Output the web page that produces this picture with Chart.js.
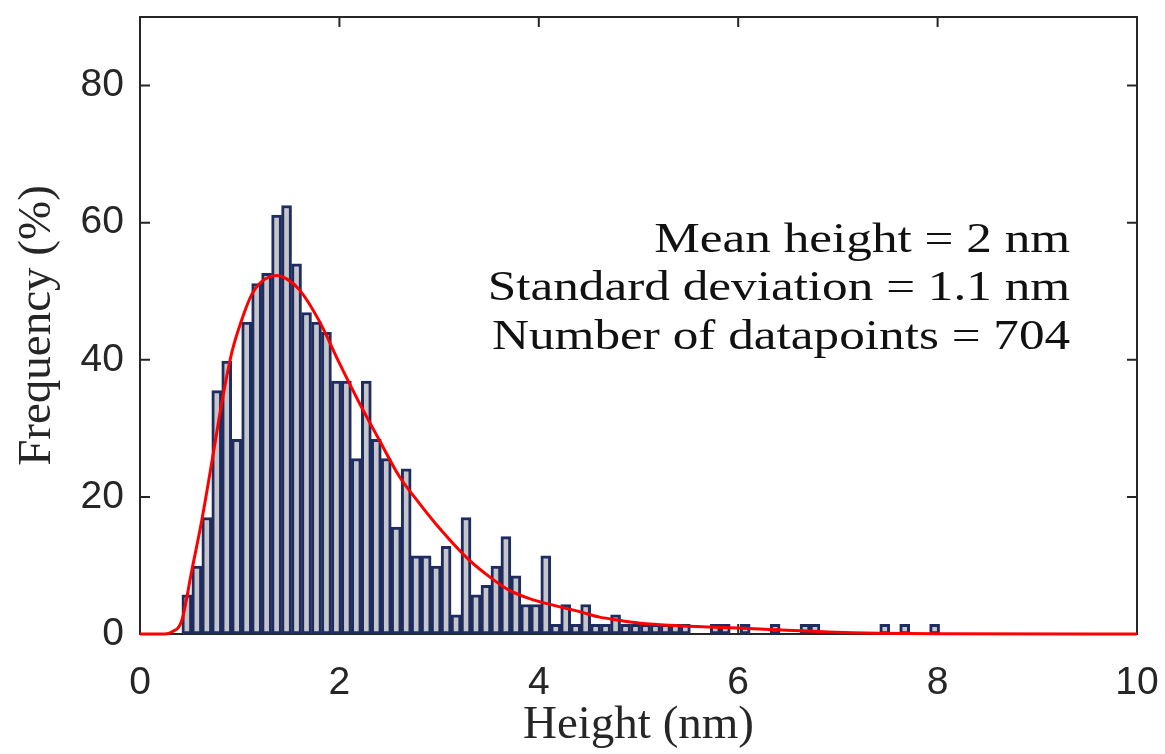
<!DOCTYPE html>
<html>
<head>
<meta charset="utf-8">
<script src="https://cdn.jsdelivr.net/npm/chart.js@4.4.0/dist/chart.umd.min.js"></script>
<style>
  html, body { margin: 0; padding: 0; background: #fff; }
  #wrap { width: 1165px; height: 754px; }
</style>
</head>
<body>
<div id="wrap"><canvas id="height-histogram"></canvas></div>
<script>
// Histogram bin centres (nm), bin width 0.1 nm
var binCenters = [
  0.47, 0.57, 0.67, 0.77, 0.87, 0.97, 1.07, 1.17, 1.27, 1.37,
  1.47, 1.57, 1.67, 1.77, 1.87, 1.97, 2.07, 2.17, 2.27, 2.37,
  2.47, 2.57, 2.67, 2.77, 2.87, 2.97, 3.07, 3.17, 3.27, 3.37,
  3.47, 3.57, 3.67, 3.77, 3.87, 3.97, 4.07, 4.17, 4.27, 4.37,
  4.47, 4.57, 4.67, 4.77, 4.87, 4.97, 5.07, 5.17, 5.27, 5.37,
  5.47, 5.57, 5.67, 5.77, 5.87, 5.97, 6.07, 6.17, 6.27, 6.37,
  6.47, 6.57, 6.67, 6.77, 6.87, 6.97, 7.07, 7.17, 7.27, 7.37,
  7.47, 7.57, 7.67, 7.77, 7.87, 7.97
];

// Frequency (%) per bin
var frequency = [
  5.7, 9.9, 17.0, 35.5, 39.8, 28.4, 45.5, 51.1, 52.6, 61.1,
  62.5, 54.0, 46.9, 45.5, 44.0, 36.9, 36.9, 25.6, 36.9, 28.4,
  25.6, 15.6, 24.1, 11.4, 11.4, 9.9, 12.8, 2.8, 17.0, 5.7,
  7.1, 9.9, 14.2, 8.5, 4.3, 4.3, 11.4, 1.4, 4.3, 1.4,
  4.3, 1.4, 1.4, 2.8, 1.4, 1.4, 1.4, 1.4, 1.4, 1.4,
  1.4, 0, 0, 1.4, 1.4, 0, 1.4, 0, 0, 1.4,
  0, 0, 1.4, 1.4, 0, 0, 0, 0, 0, 0,
  1.4, 0, 1.4, 0, 0, 1.4
];

// Fitted distribution (red curve)
var fitX = [0, 0.25, 0.32, 0.42, 0.52, 0.62, 0.72, 0.82, 0.92, 1.02, 1.12, 1.22, 1.37, 1.47,
  1.6, 1.8, 2.0, 2.2, 2.4, 2.6, 2.8, 3.0, 3.3, 3.5, 3.7, 3.9, 4.2, 4.4, 4.6, 4.8,
  5.0, 5.4, 6.1, 6.9, 8.0, 10];
var fitY = [0, 0, 0.3, 2.0, 9.3, 16.6, 25.0, 33.7, 41.0, 45.8, 49.5, 51.4, 52.3, 51.8,
  50.2, 45.6, 39.5, 33.7, 28.3, 23.0, 19.1, 15.5, 10.8, 8.4, 6.4, 5.2, 4.0, 3.3, 2.5, 2.0,
  1.6, 1.2, 0.8, 0.3, 0.05, 0];

var xTicks = [0, 2, 4, 6, 8, 10];
var yTicks = [0, 20, 40, 60, 80];

var statsLines = [
  "Mean height = 2 nm",
  "Standard deviation = 1.1 nm",
  "Number of datapoints = 704"
];
var statsY = [57.3, 50.3, 43.2];
var statsRightX = 9.33;

var axisColor = '#262626';
var serif = '"Liberation Serif", "Times New Roman", serif';
var sans = '"Liberation Sans", Arial, sans-serif';

// frame with inward ticks (MATLAB style) + stats text
var boxPlugin = {
  id: 'boxPlugin',
  beforeDatasetsDraw: function (chart) {
    var ctx = chart.ctx, a = chart.chartArea;
    var xs = chart.scales.x, ys = chart.scales.y;
    ctx.save();
    ctx.strokeStyle = axisColor;
    ctx.lineWidth = 2;
    ctx.strokeRect(a.left, a.top, a.right - a.left, a.bottom - a.top);
    ctx.beginPath();
    xTicks.forEach(function (v) {
      var px = xs.getPixelForValue(v);
      ctx.moveTo(px, a.bottom); ctx.lineTo(px, a.bottom - 10);
      ctx.moveTo(px, a.top); ctx.lineTo(px, a.top + 10);
    });
    yTicks.forEach(function (v) {
      var py = ys.getPixelForValue(v);
      ctx.moveTo(a.left, py); ctx.lineTo(a.left + 10, py);
      ctx.moveTo(a.right, py); ctx.lineTo(a.right - 10, py);
    });
    ctx.stroke();
    ctx.restore();
  },
  afterDraw: function (chart) {
    var ctx = chart.ctx;
    var xs = chart.scales.x, ys = chart.scales.y;
    var sx = 1.22;
    ctx.save();
    ctx.fillStyle = '#111';
    ctx.font = '42px ' + serif;
    ctx.textAlign = 'right';
    ctx.textBaseline = 'middle';
    ctx.scale(sx, 1);
    statsLines.forEach(function (t, i) {
      ctx.fillText(t, xs.getPixelForValue(statsRightX) / sx, ys.getPixelForValue(statsY[i]));
    });
    ctx.restore();
  }
};

var barData = binCenters.map(function (x, i) { return { x: x, y: frequency[i] }; });
var fitData = fitX.map(function (x, i) { return { x: x, y: fitY[i] }; });

var ctx = document.getElementById('height-histogram');

var config = {
  type: 'bar',
  data: {
    datasets: [{
      type: 'line',
      label: 'Fit',
      data: fitData,
      borderColor: '#ff0000',
      borderWidth: 3,
      pointRadius: 0,
      cubicInterpolationMode: 'monotone',
      clip: false,
      order: 0
    }, {
      label: 'Histogram',
      data: barData,
      backgroundColor: '#c5c6ca',
      borderColor: '#1f2c60',
      borderWidth: 3,
      borderSkipped: false,
      barPercentage: 1,
      categoryPercentage: 1,
      order: 1
    }]
  },
  options: {
    responsive: true,
    maintainAspectRatio: false,
    animation: false,
    layout: { padding: { top: 17, right: 28, left: 0, bottom: 0 } },
    plugins: {
      legend: { display: false },
      tooltip: { enabled: false }
    },
    scales: {
      x: {
        type: 'linear',
        min: 0,
        max: 10,
        offset: false,
        grid: { display: false, drawTicks: false },
        border: { display: false },
        afterBuildTicks: function (scale) {
          scale.ticks = xTicks.map(function (v) { return { value: v }; });
        },
        afterFit: function (scale) {
          scale.height = 120;
          scale.paddingLeft = 0;
          scale.paddingRight = 0;
        },
        ticks: {
          color: axisColor,
          font: { family: sans, size: 39 },
          padding: 26,
          maxRotation: 0
        },
        title: {
          display: true,
          text: 'Height (nm)',
          color: axisColor,
          font: { family: serif, size: 47 },
          padding: { top: 0, bottom: 0 }
        }
      },
      y: {
        min: 0,
        max: 90,
        grid: { display: false, drawTicks: false },
        border: { display: false },
        afterBuildTicks: function (scale) {
          scale.ticks = yTicks.map(function (v) { return { value: v }; });
        },
        afterFit: function (scale) {
          scale.width = 140;
          scale.paddingTop = 0;
          scale.paddingBottom = 0;
        },
        ticks: {
          color: axisColor,
          font: { family: sans, size: 39 },
          padding: 16
        },
        title: {
          display: true,
          text: 'Frequency (%)',
          color: axisColor,
          font: { family: serif, size: 47 },
          padding: { top: 9, bottom: 0 }
        }
      }
    }
  },
  plugins: [boxPlugin]
};

var histogramChart = new Chart(ctx, config);
</script>
</body>
</html>
